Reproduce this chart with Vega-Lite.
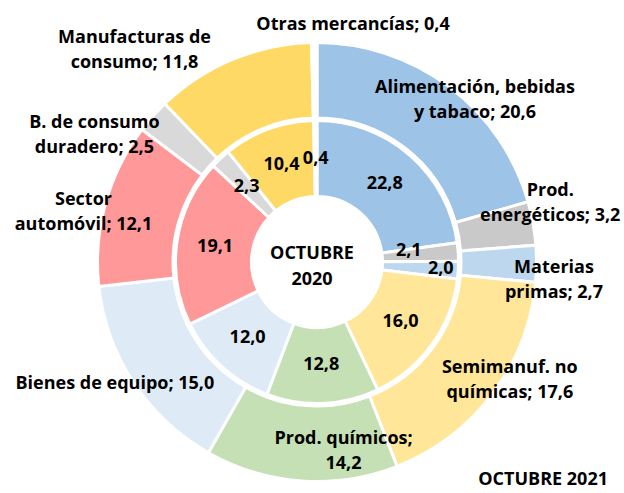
{
  "$schema": "https://vega.github.io/schema/vega-lite/v6.json",
  "width": 614,
  "height": 462,
  "autosize": "none",
  "padding": {"left": 10, "top": 31, "right": 0, "bottom": 0},
  "background": "white",
  "config": {
    "view": {"stroke": null},
    "text": {"font": "Open Sans", "fontWeight": "bold", "fontSize": 18, "color": "#000000"}
  },
  "data": {
    "values": [
      {"cat": "Alimentación, bebidas y tabaco", "ring": "2021", "idx": 1, "value": 20.6, "label": "Alimentación, bebidas\ny tabaco; 20,6"},
      {"cat": "Prod. energéticos", "ring": "2021", "idx": 2, "value": 3.2, "label": "Prod.\nenergéticos; 3,2"},
      {"cat": "Materias primas", "ring": "2021", "idx": 3, "value": 2.7, "label": "Materias\nprimas; 2,7"},
      {"cat": "Semimanuf. no químicas", "ring": "2021", "idx": 4, "value": 17.6, "label": "Semimanuf. no\nquímicas; 17,6"},
      {"cat": "Prod. químicos", "ring": "2021", "idx": 5, "value": 14.2, "label": "Prod. químicos;\n14,2"},
      {"cat": "Bienes de equipo", "ring": "2021", "idx": 6, "value": 15.0, "label": "Bienes de equipo; 15,0"},
      {"cat": "Sector automóvil", "ring": "2021", "idx": 7, "value": 12.1, "label": "Sector\nautomóvil; 12,1"},
      {"cat": "B. de consumo duradero", "ring": "2021", "idx": 8, "value": 2.5, "label": "B. de consumo\nduradero; 2,5"},
      {"cat": "Manufacturas de consumo", "ring": "2021", "idx": 9, "value": 11.8, "label": "Manufacturas de\nconsumo; 11,8"},
      {"cat": "Otras mercancías", "ring": "2021", "idx": 10, "value": 0.4, "label": "Otras mercancías; 0,4"},
      {"cat": "Alimentación, bebidas y tabaco", "ring": "2020", "idx": 1, "value": 22.8, "label": "22,8"},
      {"cat": "Prod. energéticos", "ring": "2020", "idx": 2, "value": 2.1, "label": "2,1"},
      {"cat": "Materias primas", "ring": "2020", "idx": 3, "value": 2.0, "label": "2,0"},
      {"cat": "Semimanuf. no químicas", "ring": "2020", "idx": 4, "value": 16.0, "label": "16,0"},
      {"cat": "Prod. químicos", "ring": "2020", "idx": 5, "value": 12.8, "label": "12,8"},
      {"cat": "Bienes de equipo", "ring": "2020", "idx": 6, "value": 12.0, "label": "12,0"},
      {"cat": "Sector automóvil", "ring": "2020", "idx": 7, "value": 19.1, "label": "19,1"},
      {"cat": "B. de consumo duradero", "ring": "2020", "idx": 8, "value": 2.3, "label": "2,3"},
      {"cat": "Manufacturas de consumo", "ring": "2020", "idx": 9, "value": 10.4, "label": "10,4"},
      {"cat": "Otras mercancías", "ring": "2020", "idx": 10, "value": 0.4, "label": "0,4"}
    ]
  },
  "layer": [
    {
      "transform": [{"filter": "datum.ring === '2021'"}],
      "encoding": {
        "theta": {"field": "value", "type": "quantitative", "stack": "normalize"},
        "order": {"field": "idx", "type": "quantitative"}
      },
      "layer": [
        {
          "mark": {"type": "arc", "innerRadius": 144, "outerRadius": 219.5, "stroke": "white", "strokeWidth": 3},
          "encoding": {
            "color": {"field": "cat", "type": "nominal", "legend": null,
              "scale": {
                "domain": ["Alimentación, bebidas y tabaco", "Prod. energéticos", "Materias primas", "Semimanuf. no químicas", "Prod. químicos", "Bienes de equipo", "Sector automóvil", "B. de consumo duradero", "Manufacturas de consumo", "Otras mercancías"],
                "range": ["#9DC3E6", "#C9C9C9", "#BDD7EE", "#FFE699", "#C5E0B4", "#DEEBF7", "#FF9999", "#D9D9D9", "#FFD966", "#FFFFFF"]
              }
            }
          }
        },
        {"mark": {"type": "text", "radius": 224, "dx": 23, "dy": 4.5, "lineBreak": "\n", "lineHeight": 25},
         "encoding": {"text": {"condition": {"test": "datum.idx === 1", "field": "label"}, "value": ""}}},
        {"mark": {"type": "text", "radius": 240, "dx": -3, "dy": -28.5, "lineBreak": "\n", "lineHeight": 25},
         "encoding": {"text": {"condition": {"test": "datum.idx === 2", "field": "label"}, "value": ""}}},
        {"mark": {"type": "text", "radius": 237, "dx": 0, "dy": 4.5, "lineBreak": "\n", "lineHeight": 25},
         "encoding": {"text": {"condition": {"test": "datum.idx === 3", "field": "label"}, "value": ""}}},
        {"mark": {"type": "text", "radius": 225, "dx": 13, "dy": -29.5, "lineBreak": "\n", "lineHeight": 25},
         "encoding": {"text": {"condition": {"test": "datum.idx === 4", "field": "label"}, "value": ""}}},
        {"mark": {"type": "text", "radius": 187, "dx": 40, "dy": -9.5, "lineBreak": "\n", "lineHeight": 25},
         "encoding": {"text": {"condition": {"test": "datum.idx === 5", "field": "label"}, "value": ""}}},
        {"mark": {"type": "text", "radius": 236, "dx": -5, "dy": -8, "lineBreak": "\n", "lineHeight": 25},
         "encoding": {"text": {"condition": {"test": "datum.idx === 6", "field": "label"}, "value": ""}}},
        {"mark": {"type": "text", "radius": 238, "dx": -4, "dy": 1.5, "lineBreak": "\n", "lineHeight": 25},
         "encoding": {"text": {"condition": {"test": "datum.idx === 7", "field": "label"}, "value": ""}}},
        {"mark": {"type": "text", "radius": 251, "dx": -35, "dy": 27.5, "lineBreak": "\n", "lineHeight": 25},
         "encoding": {"text": {"condition": {"test": "datum.idx === 8", "field": "label"}, "value": ""}}},
        {"mark": {"type": "text", "radius": 266, "dx": -80, "dy": 21.5, "lineBreak": "\n", "lineHeight": 25},
         "encoding": {"text": {"condition": {"test": "datum.idx === 9", "field": "label"}, "value": ""}}},
        {"mark": {"type": "text", "radius": 236, "dx": 39, "dy": -1, "lineBreak": "\n", "lineHeight": 25},
         "encoding": {"text": {"condition": {"test": "datum.idx === 10", "field": "label"}, "value": ""}}}
      ]
    },
    {
      "transform": [{"filter": "datum.ring === '2020'"}],
      "encoding": {
        "theta": {"field": "value", "type": "quantitative", "stack": "normalize"},
        "order": {"field": "idx", "type": "quantitative"}
      },
      "layer": [
        {
          "mark": {"type": "arc", "innerRadius": 65.5, "outerRadius": 141.5, "stroke": "white", "strokeWidth": 3},
          "encoding": {
            "color": {"field": "cat", "type": "nominal", "legend": null}
          }
        },
        {"mark": {"type": "text", "radius": 103},
         "encoding": {"text": {"condition": {"test": "datum.idx !== 2 && datum.idx !== 3", "field": "label"}, "value": ""}}},
        {"mark": {"type": "text", "radius": 92, "dy": -4},
         "encoding": {"text": {"condition": {"test": "datum.idx === 2", "field": "label"}, "value": ""}}},
        {"mark": {"type": "text", "radius": 124},
         "encoding": {"text": {"condition": {"test": "datum.idx === 3", "field": "label"}, "value": ""}}}
      ]
    },
    {
      "data": {"values": [{"t": "OCTUBRE\n2020"}]},
      "mark": {"type": "text", "lineBreak": "\n", "lineHeight": 26, "dx": -5, "dy": -8.5},
      "encoding": {"text": {"field": "t", "type": "nominal"}}
    },
    {
      "data": {"values": [{"t": "OCTUBRE 2021"}]},
      "mark": {"type": "text", "x": "width", "y": "height", "align": "right", "baseline": "alphabetic", "dx": -16, "dy": -8},
      "encoding": {"text": {"field": "t", "type": "nominal"}}
    }
  ]
}
